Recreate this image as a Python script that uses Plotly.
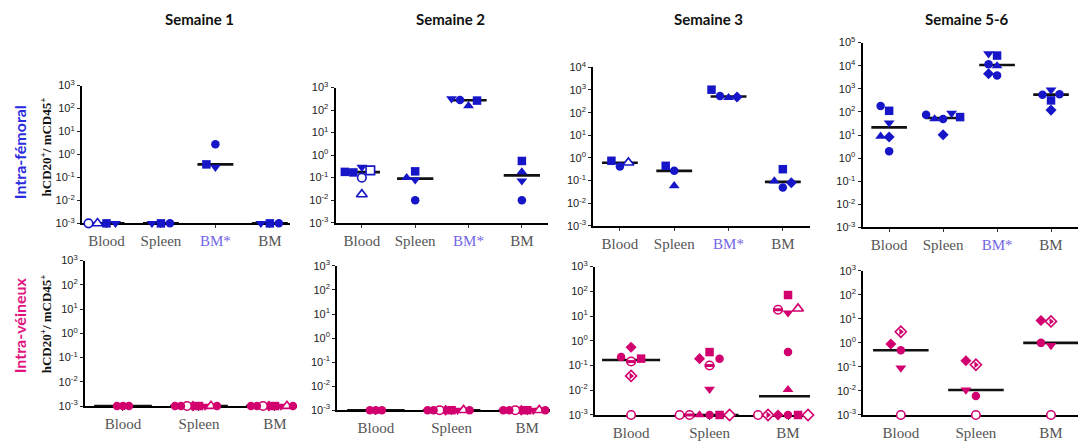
import math
import numpy as np
import plotly.graph_objects as go

W, H = 1078, 441

weeks = ["Semaine 1", "Semaine 2", "Semaine 3", "Semaine 5-6"]
routes = ["Intra-fémoral", "Intra-véineux"]
cats_if = ["Blood", "Spleen", "BM*", "BM"]
cats_iv = ["Blood", "Spleen", "BM"]
y_title = "hCD20<sup>+</sup>/ mCD45<sup>+</sup>"

# symbol codes: o filled circle, O open circle, s filled square, S open square,
# ^ filled up-triangle, A open up-triangle, v filled down-triangle,
# d filled diamond, D open diamond, h half-filled circle, H half-filled diamond

# ---- Intra-fémoral, Semaine 1
if1_blood = [0.001, 0.001, 0.001, 0.001]
if1_blood_sym = ["s", "A", "v", "O"]
if1_spleen = [0.001, 0.001, 0.001]
if1_spleen_sym = ["s", "v", "o"]
if1_bmstar = [2.8, 0.28, 0.37]
if1_bmstar_sym = ["o", "v", "s"]
if1_bm = [0.001, 0.001, 0.001]
if1_bm_sym = ["s", "v", "o"]

# ---- Intra-fémoral, Semaine 2
if2_blood = [0.29, 0.10, 0.018, 0.17, 0.21, 0.18]
if2_blood_sym = ["v", "O", "A", "s", "S", "s"]
if2_spleen = [0.08, 0.01, 0.10, 0.19]
if2_spleen_sym = ["v", "o", "^", "s"]
if2_bmstar = [155, 280, 263, 320]
if2_bmstar_sym = ["^", "o", "s", "v"]
if2_bm = [0.55, 0.18, 0.072, 0.01]
if2_bm_sym = ["s", "^", "v", "o"]

# ---- Intra-fémoral, Semaine 3
if3_blood = [0.42, 0.75, 0.62]
if3_blood_sym = ["o", "s", "A"]
if3_spleen = [0.27, 0.059, 0.45]
if3_spleen_sym = ["o", "^", "s"]
if3_bmstar = [460, 540, 490, 1030]
if3_bmstar_sym = ["^", "o", "d", "s"]
if3_bm = [0.05, 0.32, 0.096, 0.08]
if3_bm_sym = ["o", "s", "^", "d"]

# ---- Intra-fémoral, Semaine 5-6
if4_blood = [112, 182, 34, 8.3, 8.8, 2.0]
if4_blood_sym = ["s", "o", "v", "d", "^", "o"]
if4_spleen = [50, 50, 88, 76, 60, 10.3]
if4_spleen_sym = ["o", "^", "v", "o", "s", "d"]
if4_bmstar = [9800, 11600, 27500, 33000, 3800, 4500]
if4_bmstar_sym = ["^", "o", "s", "v", "o", "d"]
if4_bm = [900, 560, 316, 590, 120]
if4_bm_sym = ["v", "o", "s", "o", "d"]

# ---- Intra-véineux, Semaine 1
iv1_blood = [0.001, 0.001, 0.001]
iv1_blood_sym = ["o", "o", "o"]
iv1_spleen = [0.001, 0.001, 0.001, 0.001, 0.001, 0.001, 0.001, 0.001]
iv1_spleen_sym = ["s", "d", "v", "O", "A", "o", "o", "o"]
iv1_bm = [0.001, 0.001, 0.001, 0.001, 0.001, 0.001, 0.001, 0.001]
iv1_bm_sym = ["s", "d", "v", "O", "A", "o", "o", "o"]

# ---- Intra-véineux, Semaine 2
iv2_blood = [0.001, 0.001, 0.001]
iv2_blood_sym = ["o", "o", "o"]
iv2_spleen = [0.001, 0.001, 0.001, 0.001, 0.001, 0.001, 0.001, 0.001]
iv2_spleen_sym = ["s", "d", "v", "O", "A", "o", "o", "o"]
iv2_bm = [0.001, 0.001, 0.001, 0.001, 0.001, 0.001, 0.001, 0.001]
iv2_bm_sym = ["s", "d", "v", "O", "A", "o", "o", "o"]

# ---- Intra-véineux, Semaine 3
iv3_blood = [0.55, 0.145, 0.22, 0.19, 0.038, 0.001]
iv3_blood_sym = ["d", "h", "o", "s", "H", "O"]
iv3_spleen = [0.35, 0.10, 0.19, 0.19, 0.011, 0.001, 0.001, 0.001, 0.001, 0.001, 0.001]
iv3_spleen_sym = ["s", "h", "d", "o", "v", "o", "^", "s", "h", "D", "O"]
iv3_bm = [71, 13.5, 18, 20, 0.35, 0.0105, 0.001, 0.001, 0.001, 0.001, 0.001, 0.001]
iv3_bm_sym = ["s", "v", "h", "A", "o", "^", "o", "d", "s", "H", "D", "O"]

# ---- Intra-véineux, Semaine 5-6
iv4_blood = [2.9, 0.49, 0.9, 0.09, 0.001]
iv4_blood_sym = ["H", "o", "d", "v", "O"]
iv4_spleen = [0.123, 0.18, 0.0062, 0.011, 0.001]
iv4_spleen_sym = ["H", "d", "o", "v", "O"]
iv4_bm = [0.78, 1.0, 7.8, 8.5, 0.001]
iv4_bm_sym = ["v", "o", "H", "d", "O"]

BLUE = "#1616c8"
PINK = "#d1006e"
BMSTAR = "#7466e6"
LABEL_GRAY = "#555555"

# panel layout (pixel boxes of the plotting areas)
panels = [
    dict(row=0, col=0, box=(82, 80.7, 290, 224), yr=(-3, 3), xr=(0.55, 4.37), cats=cats_if,
         groups=[(if1_blood, if1_blood_sym), (if1_spleen, if1_spleen_sym), (if1_bmstar, if1_bmstar_sym), (if1_bm, if1_bm_sym)],
         color=BLUE, spread=9, hw=0.33),
    dict(row=0, col=1, box=(335.7, 82.7, 548, 223.3), yr=(-3, 3), xr=(0.51, 4.49), cats=cats_if,
         groups=[(if2_blood, if2_blood_sym), (if2_spleen, if2_spleen_sym), (if2_bmstar, if2_bmstar_sym), (if2_bm, if2_bm_sym)],
         color=BLUE, spread=8.5, hw=0.34),
    dict(row=0, col=2, box=(593.3, 61.7, 810, 226.7), yr=(-3, 4), xr=(0.51, 4.5), cats=cats_if,
         groups=[(if3_blood, if3_blood_sym), (if3_spleen, if3_spleen_sym), (if3_bmstar, if3_bmstar_sym), (if3_bm, if3_bm_sym)],
         color=BLUE, spread=8.5, hw=0.33),
    dict(row=0, col=3, box=(862.7, 36, 1078, 228.3), yr=(-3, 5), xr=(0.51, 4.5), cats=cats_if,
         groups=[(if4_blood, if4_blood_sym), (if4_spleen, if4_spleen_sym), (if4_bmstar, if4_bmstar_sym), (if4_bm, if4_bm_sym)],
         color=BLUE, spread=8.5, hw=0.33),
    dict(row=1, col=0, box=(85, 262.7, 297, 414), yr=(-3, 3), xr=(0.5, 3.29), cats=cats_iv,
         groups=[(iv1_blood, iv1_blood_sym), (iv1_spleen, iv1_spleen_sym), (iv1_bm, iv1_bm_sym)],
         color=PINK, spread=6, hw=0.38),
    dict(row=1, col=1, box=(337.3, 268.3, 550, 418.3), yr=(-3, 3), xr=(0.49, 3.3), cats=cats_iv,
         groups=[(iv2_blood, iv2_blood_sym), (iv2_spleen, iv2_spleen_sym), (iv2_bm, iv2_bm_sym)],
         color=PINK, spread=6, hw=0.38),
    dict(row=1, col=2, box=(595, 269, 810, 423.3), yr=(-3, 3), xr=(0.54, 3.28), cats=cats_iv,
         groups=[(iv3_blood, iv3_blood_sym), (iv3_spleen, iv3_spleen_sym), (iv3_bm, iv3_bm_sym)],
         color=PINK, spread=10, hw=0.37),
    dict(row=1, col=3, box=(863.3, 273.3, 1078, 423.3), yr=(-3, 3), xr=(0.5, 3.36), cats=cats_iv,
         groups=[(iv4_blood, iv4_blood_sym), (iv4_spleen, iv4_spleen_sym), (iv4_bm, iv4_bm_sym)],
         color=PINK, spread=10, hw=0.37),
]

SYM = {
    "o": ("circle", True), "O": ("circle", False),
    "s": ("square", True), "S": ("square", False),
    "^": ("triangle-up", True), "A": ("triangle-up", False),
    "v": ("triangle-down", True),
    "d": ("diamond", True), "D": ("diamond", False),
    "h": ("circle", False), "H": ("diamond", False),
}


def swarm(vals, ppd, d):
    """Beeswarm offsets (pixels) computed from the values."""
    placed, offs = [], []
    cands = [0]
    for j in range(1, 25):
        cands += [-j, j]
    for v in vals:
        y = math.log10(v) * ppd
        x = 0
        for c in cands:
            x = c * d
            if all((x - px) ** 2 + (y - py) ** 2 >= (d * 0.98) ** 2 for px, py in placed):
                break
        placed.append((x, y))
        offs.append(x)
    return offs


fig = go.Figure()
layout = dict(
    width=W, height=H, margin=dict(l=0, r=0, t=0, b=0),
    paper_bgcolor="white", plot_bgcolor="rgba(0,0,0,0)", showlegend=False,
)

for k, p in enumerate(panels):
    idx = "" if k == 0 else str(k + 1)
    x0, y0, x1, y1 = p["box"]
    xdom = [x0 / W, x1 / W]
    ydom = [1 - y1 / H, 1 - y0 / H]
    ppd = (y1 - y0) / (p["yr"][1] - p["yr"][0])
    ppu = (x1 - x0) / (p["xr"][1] - p["xr"][0])
    xa, ya = "x" + idx, "y" + idx

    ticktext = []
    for c in p["cats"]:
        if c == "BM*":
            ticktext.append('<span style="color:%s">%s</span>' % (BMSTAR, c))
        else:
            ticktext.append(c)
    decs = list(range(p["yr"][0], p["yr"][1] + 1))

    layout["xaxis" + idx] = dict(
        domain=xdom, anchor=ya, range=list(p["xr"]), showgrid=False, zeroline=False,
        showline=True, linecolor="black", linewidth=1.8, ticks="outside", ticklen=3,
        tickwidth=1, tickcolor="#333", tickvals=list(range(1, len(p["cats"]) + 1)),
        ticktext=ticktext, tickfont=dict(family="Liberation Serif, Times New Roman, serif", size=15, color=LABEL_GRAY),
        layer="below traces",
    )
    layout["yaxis" + idx] = dict(
        domain=ydom, anchor=xa, type="log", range=list(p["yr"]), showgrid=False, zeroline=False,
        showline=True, linecolor="black", linewidth=2.2, ticks="outside", ticklen=3,
        tickwidth=1, tickcolor="#222", tickvals=[10.0 ** e for e in decs],
        ticktext=["10<sup>%d</sup>" % e for e in decs],
        tickfont=dict(family="Liberation Sans, Arial, sans-serif", size=11, color="#222"),
        layer="below traces",
    )

    col = p["color"]
    # median lines
    mx, my = [], []
    for gi, (vals, syms) in enumerate(p["groups"]):
        c = gi + 1
        m = float(np.median(vals))
        mx += [c - p["hw"], c + p["hw"], None]
        my += [m, m, None]
    fig.add_trace(go.Scatter(x=mx, y=my, mode="lines", xaxis=xa, yaxis=ya,
                             line=dict(color="#111", width=2.6), cliponaxis=False, hoverinfo="skip"))

    # points
    for gi, (vals, syms) in enumerate(p["groups"]):
        c = gi + 1
        offs = swarm(vals, ppd, p["spread"])
        for v, s, o in zip(vals, syms, offs):
            shape, filled = SYM[s]
            xv = c + o / ppu
            size = 8.5 if shape in ("circle", "square") else (9.5 if shape.startswith("triangle") else 8.5)
            fig.add_trace(go.Scatter(
                x=[xv], y=[v], mode="markers", xaxis=xa, yaxis=ya, cliponaxis=False,
                marker=dict(symbol=shape, size=size, color=col if filled else "white",
                            line=dict(color=col, width=0 if filled else 1.6)),
                hoverinfo="skip"))
            if s == "h":
                fig.add_trace(go.Scatter(
                    x=[xv], y=[v], mode="markers", xaxis=xa, yaxis=ya, cliponaxis=False,
                    marker=dict(symbol="line-ew", size=7, line=dict(color=col, width=3)),
                    hoverinfo="skip"))
            if s == "H":
                fig.add_trace(go.Scatter(
                    x=[xv], y=[v], mode="markers", xaxis=xa, yaxis=ya, cliponaxis=False,
                    marker=dict(symbol="triangle-right", size=6, color=col, line=dict(width=0)),
                    hoverinfo="skip"))

annotations = []
title_x = [200, 450, 708, 967]
for t, xc in zip(weeks, title_x):
    annotations.append(dict(text="<b>%s</b>" % t, x=xc / W, y=1 - 11 / H, xref="paper", yref="paper",
                            xanchor="center", yanchor="middle", showarrow=False,
                            font=dict(family="Lato, Open Sans, sans-serif", size=15, color="#111")))
row_y = [150, 330]
row_col = ["#2b2be0", "#e2127e"]
for r, yc, cc in zip(routes, row_y, row_col):
    annotations.append(dict(text="<b>%s</b>" % r, x=19 / W, y=1 - yc / H, xref="paper", yref="paper",
                            xanchor="center", yanchor="middle", showarrow=False, textangle=-90,
                            font=dict(family="Lato, Open Sans, sans-serif", size=16, color=cc)))
for yc in [145, 329]:
    annotations.append(dict(text="<b>%s</b>" % y_title, x=46 / W, y=1 - yc / H, xref="paper", yref="paper",
                            xanchor="center", yanchor="middle", showarrow=False, textangle=-90,
                            font=dict(family="Liberation Serif, Times New Roman, serif", size=13, color="#111")))
layout["annotations"] = annotations

fig.update_layout(**layout)
fig.write_html("out.html", config={"displayModeBar": False},
               post_script="document.body.style.margin='0';document.body.style.overflow='hidden';")
